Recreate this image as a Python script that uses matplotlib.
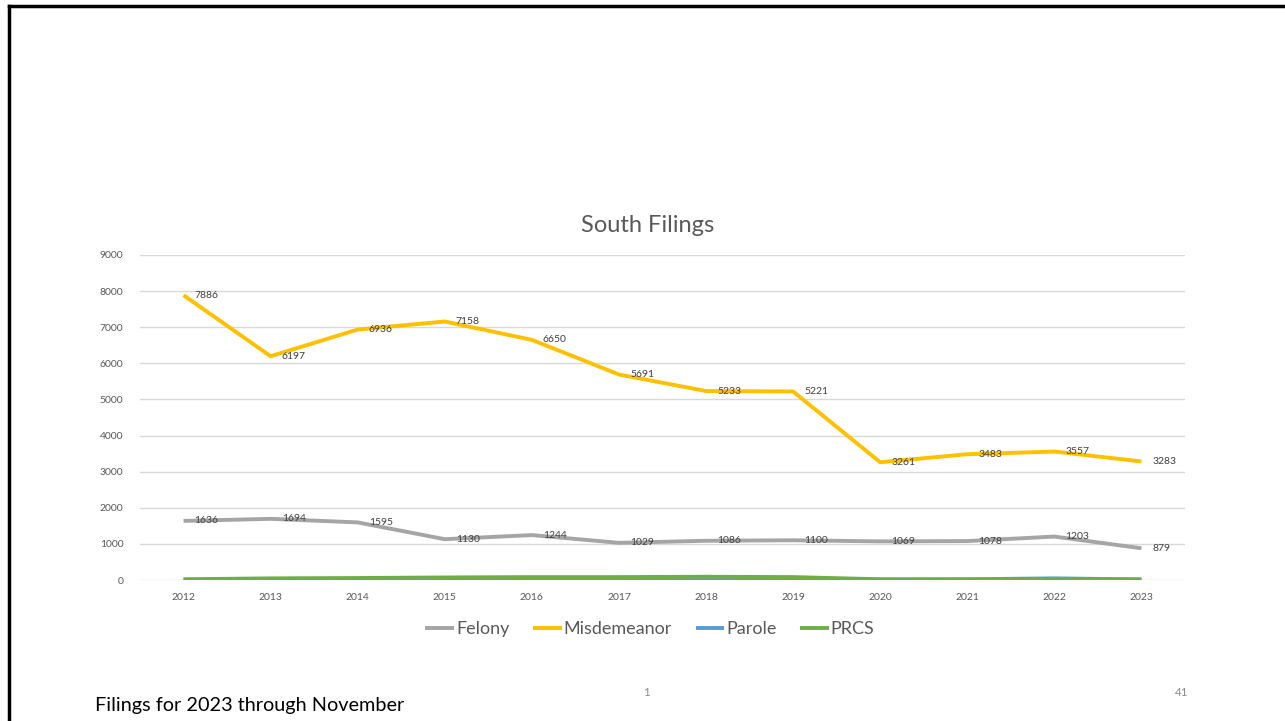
import matplotlib
matplotlib.use("Agg")
import matplotlib.pyplot as plt
from matplotlib.lines import Line2D

years = ["2012", "2013", "2014", "2015", "2016", "2017", "2018", "2019", "2020", "2021", "2022", "2023"]
felony = [1636, 1694, 1595, 1130, 1244, 1029, 1086, 1100, 1069, 1078, 1203, 879]
misdemeanor = [7886, 6197, 6936, 7158, 6650, 5691, 5233, 5221, 3261, 3483, 3557, 3283]
parole = [5, 10, 20, 25, 15, 20, 20, 15, 10, 20, 45, 15]
prcs = [20, 45, 55, 70, 80, 80, 90, 80, 20, 15, 20, 15]

FONT = ["Lato", "DejaVu Sans"]
plt.rcParams["font.family"] = FONT
GRAY = "#595959"

fig = plt.figure(figsize=(12.85, 7.21), dpi=100)
fig.patch.set_facecolor("white")

# slide border (left & top)
fig.add_artist(Line2D([9/1285, 9/1285], [0, 1 - 6/721], transform=fig.transFigure, color="black", lw=2.5))
fig.add_artist(Line2D([9/1285, 1], [1 - 6/721, 1 - 6/721], transform=fig.transFigure, color="black", lw=2.5))

ax = fig.add_axes([140/1285, 1 - 580/721, (1185 - 140)/1285, (580 - 255)/721])
x = list(range(len(years)))

series = [
    ("Felony", felony, "#A5A5A5", True),
    ("Misdemeanor", misdemeanor, "#FFC000", True),
    ("Parole", parole, "#5B9BD5", False),
    ("PRCS", prcs, "#70AD47", False),
]
for name, vals, col, lab in series:
    ax.plot(x, vals, color=col, lw=2.8, label=name, solid_capstyle="butt", zorder=3)
    if lab:
        for xi, v in zip(x, vals):
            ax.annotate(str(v), (xi, v), xytext=(8, 0), textcoords="offset points",
                        ha="left", va="center", fontsize=7.5, color="#404040", zorder=4)

ax.set_xlim(-0.5, len(years) - 0.5)
ax.set_ylim(0, 9000)
ax.set_yticks(range(0, 9001, 1000))
ax.set_xticks(x)
ax.set_xticklabels(years)
ax.tick_params(axis="both", length=0, labelsize=7.5, labelcolor=GRAY)
ax.tick_params(axis="y", pad=12)
ax.tick_params(axis="x", pad=9)
ax.grid(axis="y", color="#D9D9D9", lw=1)
ax.set_axisbelow(True)
for s in ax.spines.values():
    s.set_visible(False)

fig.text(648/1285, 1 - 225/721, "South Filings", ha="center", va="center", fontsize=17, color=GRAY)

leg = fig.legend(*ax.get_legend_handles_labels(), loc="center", bbox_to_anchor=(650/1285, 1 - 629/721),
                 ncol=4, frameon=False, fontsize=13, handlelength=1.6, handletextpad=0.1,
                 columnspacing=1.3, labelcolor=GRAY)

fig.text(647/1285, 1 - 693/721, "1", ha="center", va="center", fontsize=8.5, color="#8C8C8C")
fig.text(1182/1285, 1 - 692/721, "41", ha="center", va="center", fontsize=8.5, color="#8C8C8C")
fig.text(95/1285, 1 - 706/721, "Filings for 2023 through November", ha="left", va="center", fontsize=14.3, color="black")

fig.savefig("out.png", dpi=100)
